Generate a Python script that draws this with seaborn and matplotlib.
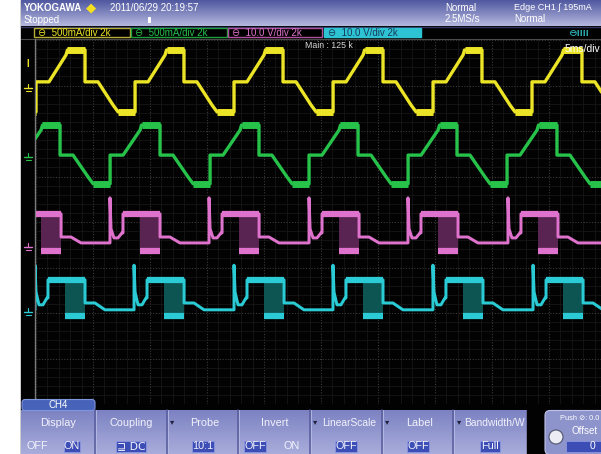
import numpy as np
import pandas as pd
import matplotlib
matplotlib.use("Agg")
import matplotlib.pyplot as plt
import seaborn as sns
from matplotlib.patches import Rectangle, FancyBboxPatch, Circle
from matplotlib.colors import LinearSegmentedColormap

sns.set_theme(style="dark")
plt.rcParams['font.family'] = ['Liberation Sans', 'DejaVu Sans']

# ---------------------------------------------------------------- data
# Horizontal: time in ms (5 ms/div).  Vertical: screen divisions (+4 top, -4 bottom).
MS_PER_DIV = 5
N_VDIV = 8

# CH1 / CH2 (current probes): one cycle, offsets in ms from the falling edge
I_CYCLE_T = [0.00, 0.00, 1.14, 2.46, 2.90, 4.39, 4.39, 5.53, 7.02, 7.15]
CH1_LEVELS = [3.78, 3.08, 3.08, 2.57, 2.42, 2.42, 3.08, 3.08, 3.67, 3.78]
CH2_LEVELS = [2.13, 1.47, 1.47, 0.99, 0.84, 0.84, 1.47, 1.47, 2.02, 2.13]
I_BOTTOM_FLAT = [2.90, 4.39]
I_TOP_FLAT_START = 7.15
CH1_EDGES = [-4.39, 4.30, 12.98, 21.67, 30.44, 39.12, 47.89, 56.6]
CH2_EDGES = [-6.58, 2.11, 10.88, 19.56, 28.25, 36.93, 45.70, 54.4]

# CH3 / CH4 (voltage): one cycle, offsets in ms from the turn-off spike
V_CYCLE_T = [0.00, 0.00, 0.09, 0.35, 0.70, 1.05, 1.14, 1.14, 4.39, 4.39, 5.26, 6.14]
CH3_LEVELS = [-0.46, 0.53, -0.15, -0.35, -0.35, -0.24, -0.24, 0.18, 0.18, -0.33, -0.33, -0.46]
CH4_LEVELS = [-1.93, -0.95, -1.54, -1.82, -1.82, -1.67, -1.67, -1.27, -1.27, -1.78, -1.78, -1.93]
V_HIGH_FLAT = [1.14, 4.39]
V_PWM = [2.63, 4.39]          # switching burst window
CH3_PWM = [0.18, -0.64]       # high / low rail of the burst
CH4_PWM = [-1.27, -2.07]
CH3_SPIKES = [-2.19, 6.49, 15.18, 23.95, 32.63, 41.40, 50.09]
CH4_SPIKES = [-8.77, -0.09, 8.60, 17.37, 26.05, 34.82, 43.60]

COL = {'ch1': '#ece426', 'ch2': '#26c24a', 'ch3': '#df72cc', 'ch4': '#2acbd4'}
PWM_FILL = {'ch3': '#5a2452', 'ch4': '#0d5552'}

# ---------------------------------------------------------------- figure
W, H = 601, 454
fig = plt.figure(figsize=(W / 100, H / 100), dpi=100, facecolor='white')

ui = fig.add_axes([0, 0, 1, 1], zorder=0)
ui.set_facecolor('white')


def grad(ax, x0, x1, y0, y1, c_top, c_bot, z=1):
    cmap = LinearSegmentedColormap.from_list('g', [c_top, c_bot])
    ax.imshow(np.linspace(0, 1, 64).reshape(-1, 1), extent=[x0, x1, y1, y0],
              aspect='auto', cmap=cmap, zorder=z, interpolation='bilinear')


# screen background
ui.add_patch(Rectangle((21, 0), W - 21, H, color='#020202', zorder=0))
# header band
grad(ui, 21, W, 0, 26, '#5058a0', '#b4b8de')
ui.plot([21, W], [26.5, 26.5], color='#30345a', lw=1, zorder=2)
ui.plot([21, W], [38.5, 38.5], color='#4a4a4a', lw=0.8, zorder=2)

wave_left, wave_right, wave_top, wave_bot = 36, W, 40, 404
ax = fig.add_axes([wave_left / W, (H - wave_bot) / H,
                   (wave_right - wave_left) / W, (wave_bot - wave_top) / H], zorder=2)
ax.set_facecolor('none')

fg = fig.add_axes([0, 0, 1, 1], zorder=5)
fg.set_facecolor('none')


def cycle_frame(starts, t_cycle, levels):
    rows = [(s + t, v) for s in starts for t, v in zip(t_cycle, levels)]
    return pd.DataFrame(rows, columns=['t', 'v'])


def band_frame(segments):
    rows = []
    for i, (t0, t1, v) in enumerate(segments):
        rows += [(i, t0, v), (i, t1, v)]
    return pd.DataFrame(rows, columns=['seg', 't', 'v'])


TRACE_LW = 2.4
BAND_LW = 5.0
line_kw = dict(sort=False, estimator=None, solid_capstyle='butt', ax=ax, zorder=4)

# current channels
for key, edges, levels in [('ch1', CH1_EDGES, CH1_LEVELS), ('ch2', CH2_EDGES, CH2_LEVELS)]:
    df = cycle_frame(edges, I_CYCLE_T, levels)
    sns.lineplot(data=df, x='t', y='v', color=COL[key], lw=TRACE_LW, **line_kw)
    segs = []
    for a, b in zip(edges[:-1], edges[1:]):
        segs.append((a + I_BOTTOM_FLAT[0], a + I_BOTTOM_FLAT[1], levels[4]))
        segs.append((a + I_TOP_FLAT_START, b, levels[-1]))
    sns.lineplot(data=band_frame(segs), x='t', y='v', units='seg',
                 color=COL[key], lw=BAND_LW, **line_kw)

# voltage channels
for key, spikes, levels, pwm in [('ch3', CH3_SPIKES, CH3_LEVELS, CH3_PWM),
                                 ('ch4', CH4_SPIKES, CH4_LEVELS, CH4_PWM)]:
    df = cycle_frame(spikes, V_CYCLE_T, levels)
    sns.lineplot(data=df, x='t', y='v', color=COL[key], lw=TRACE_LW * 0.9, **line_kw)
    segs = []
    for s in spikes:
        ax.fill_between([s + V_PWM[0], s + V_PWM[1]], pwm[1], pwm[0],
                        color=PWM_FILL[key], lw=0, zorder=3)
        segs.append((s + V_HIGH_FLAT[0], s + V_HIGH_FLAT[1], pwm[0]))
        segs.append((s + V_PWM[0], s + V_PWM[1], pwm[1]))
    sns.lineplot(data=band_frame(segs), x='t', y='v', units='seg',
                 color=COL[key], lw=BAND_LW * 0.9, **line_kw)

x_span = (wave_right - wave_left) / 57 * MS_PER_DIV
ax.set_xlim(0, x_span)
ax.set_ylim(-N_VDIV / 2, N_VDIV / 2)
ax.set_xticks(np.arange(0, x_span, MS_PER_DIV))
ax.set_yticks(np.arange(-N_VDIV / 2, N_VDIV / 2 + 0.1, 1))
ax.set_xticks(np.arange(0, x_span, MS_PER_DIV / 5), minor=True)
ax.set_yticks(np.arange(-N_VDIV / 2, N_VDIV / 2, 0.2), minor=True)
ax.grid(which='major', color='#3a3a3a', ls=(0, (1, 1.5)), lw=0.8)
ax.grid(which='minor', color='#191919', ls='-', lw=0.5)
ax.tick_params(which='both', length=0, labelbottom=False, labelleft=False)
ax.set_xlabel('')
ax.set_ylabel('')
for sp in ax.spines.values():
    sp.set_visible(False)

# left border of the waveform area and channel markers
ui.plot([35, 35], [39, 405], color='#7a7a7a', lw=1, zorder=2)
for y, c in [(88, COL['ch1']), (157, COL['ch2']), (247, COL['ch3']), (312, COL['ch4'])]:
    fg.plot([24, 32], [y, y], color=c, lw=1)
    fg.plot([25.5, 30.5], [y + 2.5, y + 2.5], color=c, lw=0.8)
    fg.plot([28, 28], [y - 4, y], color=c, lw=0.8)
fg.text(28, 64, 'I', color=COL['ch1'], fontsize=7, ha='center', va='center',
        fontweight='bold')

# header texts
hdr = dict(color='white', fontsize=7, va='center')
fg.text(24, 8, 'YOKOGAWA', fontweight='bold', **hdr)
fg.text(91, 8, '◆', color='#f4e020', fontsize=9.5, ha='center', va='center',
        family=['DejaVu Sans'])
fg.text(110, 8, '2011/06/29 20:19:57', **hdr)
fg.text(24, 20, 'Stopped', **hdr)
fg.add_patch(Rectangle((148, 16.5), 3, 6, facecolor='white', edgecolor='none'))
fg.text(445, 8, 'Normal', **hdr)
fg.text(445, 19, '2.5MS/s', **hdr)
fg.text(514, 8, 'Edge CH1 ∫ 195mA', color='white', fontsize=6.5, va='center')
fg.text(514, 19, 'Normal', **hdr)

# channel setting boxes
boxes = [(34, 96, 'ch1', '#b5ad35', '500mA/div'), (131, 96, 'ch2', '#1e9e3c', '500mA/div'),
         (228, 94, 'ch3', '#b0509e', '10.0 V/div')]
for x0, w, key, ec, lab in boxes:
    fg.add_patch(Rectangle((x0, 27.8), w, 9.6, facecolor='black', edgecolor=ec, lw=1))
    fg.text(x0 + 4, 32.6, '⊖  ' + lab + ' 2k', color=COL[key], fontsize=7, va='center')
fg.add_patch(Rectangle((324, 27.8), 97, 9.6, facecolor='#2ec3d3', edgecolor='#2ec3d3', lw=1))
fg.text(328, 32.6, '⊖  10.0 V/div 2k', color='#173a5a', fontsize=7, va='center')
fg.text(568, 32.6, '⊖ıııı', color='#2aa8a8', fontsize=7.5, va='center', fontweight='bold')

fg.text(305, 45, 'Main : 125 k', color='#d8d8d8', fontsize=6.3, va='center')
fg.text(565, 48.5, '5ms/div', color='white', fontsize=7.4, va='center')

# bottom soft-key menu
grad(fg, 21, 527, 410, H, '#7c82c2', '#a9addb', z=1)
fg.add_patch(Rectangle((527, 410), 18, H - 410, color='#020202', zorder=1))
fg.add_patch(FancyBboxPatch((22, 399.5), 73, 11, boxstyle='round,pad=0,rounding_size=3',
                            facecolor='#4763b9', edgecolor='#7f95dc', lw=0.8, zorder=2))
fg.text(58, 405, 'CH4', color='white', fontsize=7, ha='center', va='center', zorder=3)
for xs in [95, 167, 238, 310, 382, 453]:
    fg.plot([xs, xs], [410, H], color='#565c9c', lw=1.1, zorder=2)
    fg.plot([xs + 1.2, xs + 1.2], [410, H], color='#b8bce4', lw=0.6, zorder=2)

menu = dict(color='#f2f2fa', fontsize=7.8, ha='center', va='center', zorder=4)
titles = [(58, 'Display'), (131, 'Coupling'), (205, 'Probe'), (275, 'Invert'),
          (349, 'LinearScale'), (420, 'Label'), (494, 'Bandwidth/W')]
for x, t in titles:
    fg.text(x, 423, t, **dict(menu, fontsize=7.4 if len(t) > 9 else 7.8))
for x in [172, 315, 387, 459]:
    fg.text(x, 422, '▾', color='#202040', fontsize=6, ha='center', va='center',
            family=['DejaVu Sans'], zorder=4)


def key_value(x, text, on, w=22, family=None):
    if on:
        fg.add_patch(Rectangle((x - w / 2, 440.5), w, 11, facecolor='#3c4db5',
                               edgecolor='#8c96e0', lw=0.6, zorder=3))
    kw = dict(menu)
    if family:
        kw['family'] = family
    fg.text(x, 446, text, **kw)


key_value(37, 'OFF', False)
key_value(72, 'ON', True, 16)
key_value(131, '⊒ DC', True, 30, family=['DejaVu Sans'])
key_value(203, '10:1', True, 22)
key_value(255, 'OFF', True)
key_value(292, 'ON', False)
key_value(346, 'OFF', True)
key_value(418, 'OFF', True)
key_value(490, 'Full', True, 20)

# offset knob panel
fg.add_patch(FancyBboxPatch((545, 410.5), 62, 44, boxstyle='round,pad=0,rounding_size=5',
                            facecolor='#8d93cb', edgecolor='#c0c4ea', lw=0.8, zorder=2))
fg.text(560, 418, 'Push ⊘: 0.0', color='white', fontsize=5.3, va='center', zorder=4,
        family=['Liberation Sans', 'DejaVu Sans'])
fg.add_patch(Circle((556, 437), 7, facecolor='#ecedf4', edgecolor='#50546e', lw=0.8, zorder=4))
fg.text(571, 431, 'Offset', color='white', fontsize=7, va='center', zorder=4)
fg.add_patch(Rectangle((566, 440.5), 40, 11, facecolor='#3c4db5', edgecolor='#8c96e0',
                       lw=0.6, zorder=3))
fg.text(593, 446, '0', color='white', fontsize=7.5, ha='center', va='center', zorder=4)

for a in (ui, fg):
    a.set_xlim(0, W)
    a.set_ylim(H, 0)
    a.axis('off')

fig.savefig('out.png', dpi=100, facecolor='white')
